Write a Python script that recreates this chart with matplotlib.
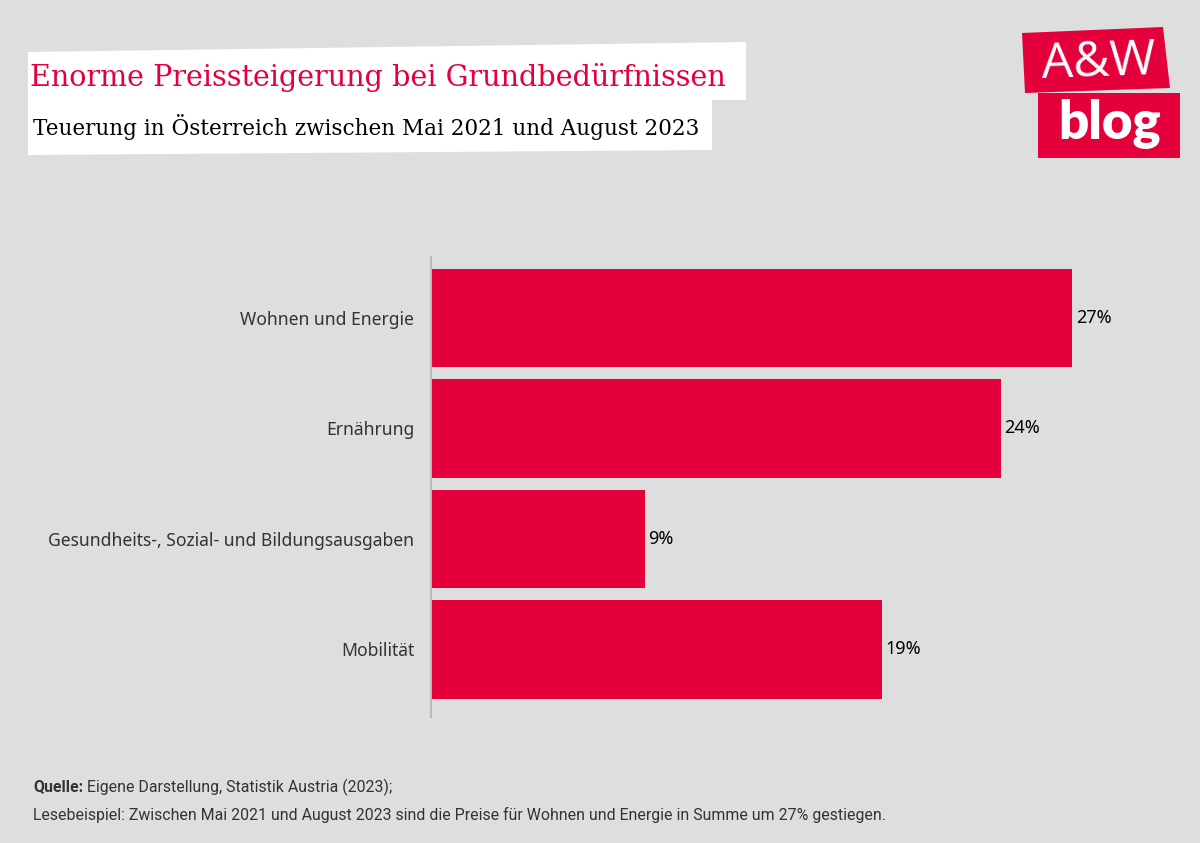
import matplotlib
matplotlib.use("Agg")
import matplotlib.pyplot as plt
from matplotlib.patches import Polygon
import numpy as np

# Daten
kategorien = ["Wohnen und Energie", "Ernährung",
              "Gesundheits-, Sozial- und Bildungsausgaben", "Mobilität"]
teuerung = [27, 24, 9, 19]
werte_labels = ["27%", "24%", "9%", "19%"]

titel = "Enorme Preissteigerung bei Grundbedürfnissen"
untertitel = "Teuerung in Österreich zwischen Mai 2021 und August 2023"
quelle_fett = "Quelle:"
quelle_text = " Eigene Darstellung, Statistik Austria (2023);"
lesebeispiel = ("Lesebeispiel: Zwischen Mai 2021 und August 2023 sind die Preise für "
                "Wohnen und Energie in Summe um 27% gestiegen.")

ROT = "#E4003A"
HG = "#DEDEDE"
TXT = "#333333"

W, H = 1200, 843
fig = plt.figure(figsize=(W / 100, H / 100), dpi=100, facecolor=HG)


def px(x, y):
    # Pixel (von oben links) -> Figurkoordinaten
    return x / W, 1 - y / H


# Titelkasten (weiss, leicht schief)
box = [(28, 52), (746, 42), (746, 100), (712, 100), (712, 150), (28, 155)]
fig.patches.append(Polygon([px(*p) for p in box], closed=True,
                           transform=fig.transFigure, facecolor="white",
                           edgecolor="none", zorder=0))
fig.text(*px(30, 78), titel, color=ROT, fontsize=20.6, family="DejaVu Serif",
         va="center", ha="left")
fig.text(*px(33, 127), untertitel, color="black", fontsize=15.5,
         family="DejaVu Serif", va="center", ha="left")

# Logo
oben = [(1022, 33), (1163, 27), (1170, 88), (1025, 93)]
unten = [(1038, 93), (1180, 93), (1180, 158), (1038, 158)]
for poly in (oben, unten):
    fig.patches.append(Polygon([px(*p) for p in poly], closed=True,
                               transform=fig.transFigure, facecolor=ROT,
                               edgecolor="none", zorder=0))
fig.text(*px(1099, 63), "A&W", color="white", fontsize=36, family="Open Sans",
         va="center", ha="center", rotation=2)
fig.text(*px(1110, 124), "blog", color="white", fontsize=38, family="Lato",
         fontweight="heavy", va="center", ha="center")

# Diagramm
ax = fig.add_axes([431 / W, 1 - 717 / H, 760 / W, 460 / H])
ax.set_facecolor(HG)
y = np.arange(len(kategorien))
ax.barh(y, teuerung, height=0.89, color=ROT)
ax.set_xlim(0, 32)
ax.set_ylim(3.611, -0.552)
ax.set_yticks(y)
ax.set_yticklabels(kategorien, fontsize=12.6, color=TXT, family="Noto Sans")
ax.tick_params(axis="y", length=0, pad=12)
ax.set_xticks([])
for s in ["top", "right", "bottom"]:
    ax.spines[s].set_visible(False)
ax.spines["left"].set_color("#B8B8B8")
ax.spines["left"].set_linewidth(1.5)
for yi, v, lab in zip(y, teuerung, werte_labels):
    ax.text(v + 0.15, yi, lab, va="center", ha="left", fontsize=13,
            color="black", family="Noto Sans")

# Fussnote
t = fig.text(*px(33, 787), quelle_fett, fontsize=11.4, fontweight="bold",
             color=TXT, family="Roboto", va="center", ha="left")
r = fig.canvas.get_renderer()
bb = t.get_window_extent(renderer=r)
fig.text(bb.x1 / W, 1 - 787 / H, quelle_text, fontsize=11.4, color=TXT,
         family="Roboto", va="center", ha="left")
fig.text(*px(33, 815), lesebeispiel, fontsize=11.4, color=TXT, family="Roboto",
         va="center", ha="left")

fig.savefig("out.png", dpi=100, facecolor=HG)
